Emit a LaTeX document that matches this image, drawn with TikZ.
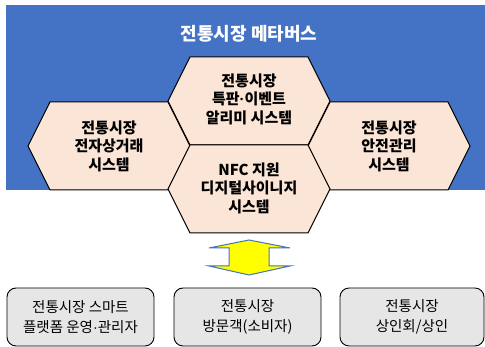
\documentclass[tikz,border=0pt]{standalone}
\usepackage{fontspec}
\setmainfont{Noto Sans CJK KR}
\newfontfamily\latindot{Liberation Sans}
\newcommand{\mdot}{{\latindot ·}}
\definecolor{metablue}{HTML}{4472C4}
\definecolor{hexfill}{HTML}{FBE5D6}
\definecolor{boxfill}{HTML}{E7E6E6}
\definecolor{arrowyellow}{HTML}{FFFF00}
\tikzset{
  hexshape/.style={fill=hexfill,draw=black,line width=1pt,line join=miter},
  hextext/.style={align=center,font=\fontsize{15}{18.5}\selectfont\bfseries,text=black,inner sep=0pt},
  userbox/.style={draw=black,line width=0.9pt,fill=boxfill,rounded corners=9pt,minimum width=147pt,minimum height=58pt,align=center,font=\fontsize{14.5}{20}\selectfont,inner sep=0pt},
  titletext/.style={font=\fontsize{18}{20}\selectfont\bfseries,text=white,inner sep=0pt},
  pics/hexa/.style={code={
    \path[hexshape] (-81,0) -- (-59,44) -- (59,44) -- (81,0) -- (59,-44) -- (-59,-44) -- cycle;
  }}
}
\begin{document}
\begin{tikzpicture}[x=1pt,y=-1pt]
\useasboundingbox (0,0) rectangle (485,347);
% background
\fill[metablue] (6,5) rectangle (485,190);
\node[titletext] (title) at (249,34) {전통시장 메타버스};
% hexagons
\pic at (109,146) {hexa};
\pic at (389,146) {hexa};
\pic at (249,101) {hexa};
\pic at (249,189) {hexa};
\node[hextext] (hexL) at (109,146) {전통시장\\전자상거래\\시스템};
\node[hextext] (hexR) at (389,146) {전통시장\\안전관리\\시스템};
\node[hextext] (hexT) at (249,99) {전통시장\\특판\mdot 이벤트\\알리미 시스템};
\node[hextext] (hexB) at (249,188) {NFC 지원\\디지털사이니지\\시스템};
% double arrow
\path[fill=arrowyellow,draw=metablue,line width=1pt,line join=miter]
  (249,240) -- (290,248) -- (269,248) -- (269,266) -- (290,266) -- (249,275)
  -- (209,266) -- (229,266) -- (229,248) -- (209,248) -- cycle;
% bottom boxes
\node[userbox] (u1) at (80.5,317) {전통시장 스마트\\플랫폼 운영\mdot 관리자};
\node[userbox] (u2) at (247.5,317) {전통시장\\방문객(소비자)};
\node[userbox,minimum width=144pt] (u3) at (412,317) {전통시장\\상인회/상인};
\end{tikzpicture}
\end{document}
